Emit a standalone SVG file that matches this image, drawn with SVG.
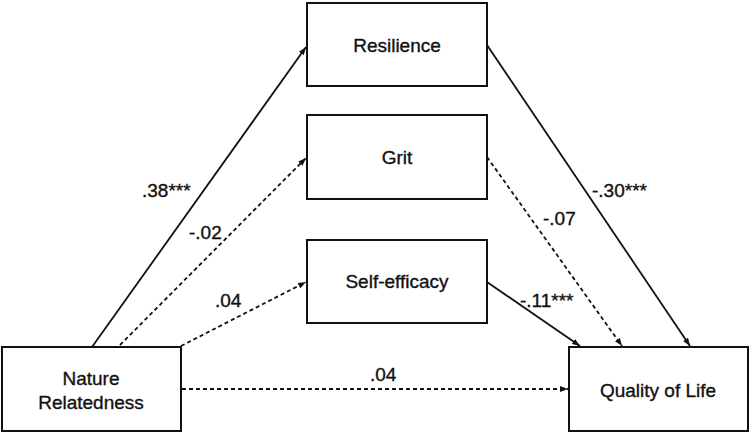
<svg xmlns="http://www.w3.org/2000/svg" width="750" height="434" viewBox="0 0 750 434">
<style>
.box{fill:#fff;stroke:#111;stroke-width:2}
.t{font-family:"Liberation Sans",Arial,sans-serif;font-size:19px;fill:#111;stroke:#111;stroke-width:0.35;text-anchor:middle}
.l{font-family:"Liberation Sans",Arial,sans-serif;font-size:19px;fill:#111;stroke:#111;stroke-width:0.35}
.c{fill:none;stroke:#111;stroke-width:1.8}
.d{stroke-dasharray:4 3}
</style>
<defs>
<marker id="ah" viewBox="0 0 8 6" refX="8" refY="3" markerWidth="8" markerHeight="6" markerUnits="userSpaceOnUse" orient="auto">
<path d="M0,0 L8,3 L0,6 Z" fill="#111"/>
</marker>
</defs>
<g id="connectors">
<line class="c" x1="92" y1="347" x2="306" y2="47" marker-end="url(#ah)"/>
<line class="c d" x1="120" y1="345" x2="306" y2="158" marker-end="url(#ah)"/>
<line class="c d" x1="181" y1="346" x2="306" y2="282" marker-end="url(#ah)"/>
<line class="c d" x1="182" y1="389" x2="568" y2="389" marker-end="url(#ah)"/>
<line class="c" x1="487" y1="45" x2="690" y2="346" marker-end="url(#ah)"/>
<line class="c d" x1="487" y1="157" x2="622" y2="346" marker-end="url(#ah)"/>
<line class="c" x1="487" y1="282" x2="580" y2="346" marker-end="url(#ah)"/>
<text class="l" x="142" y="197">.38***</text>
<text class="l" x="189" y="239">-.02</text>
<text class="l" x="215" y="307">.04</text>
<text class="l" x="370" y="381">.04</text>
<text class="l" x="592" y="197">-.30***</text>
<text class="l" x="543" y="225">-.07</text>
<text class="l" x="520" y="307">-.11***</text>
</g>
<g id="resilience">
<rect class="box" x="307" y="3" width="180" height="83"/>
<text class="t" x="397" y="52">Resilience</text>
</g>
<g id="grit">
<rect class="box" x="307" y="115" width="180" height="84"/>
<text class="t" x="397" y="164">Grit</text>
</g>
<g id="self-efficacy">
<rect class="box" x="307" y="240" width="180" height="83"/>
<text class="t" x="397" y="288">Self-efficacy</text>
</g>
<g id="nature-relatedness">
<rect class="box" x="2" y="347" width="179" height="84"/>
<text class="t" x="91" y="385">Nature</text>
<text class="t" x="91" y="409">Relatedness</text>
</g>
<g id="quality-of-life">
<rect class="box" x="569" y="347" width="179" height="84"/>
<text class="t" x="658" y="397">Quality of Life</text>
</g>
</svg>
